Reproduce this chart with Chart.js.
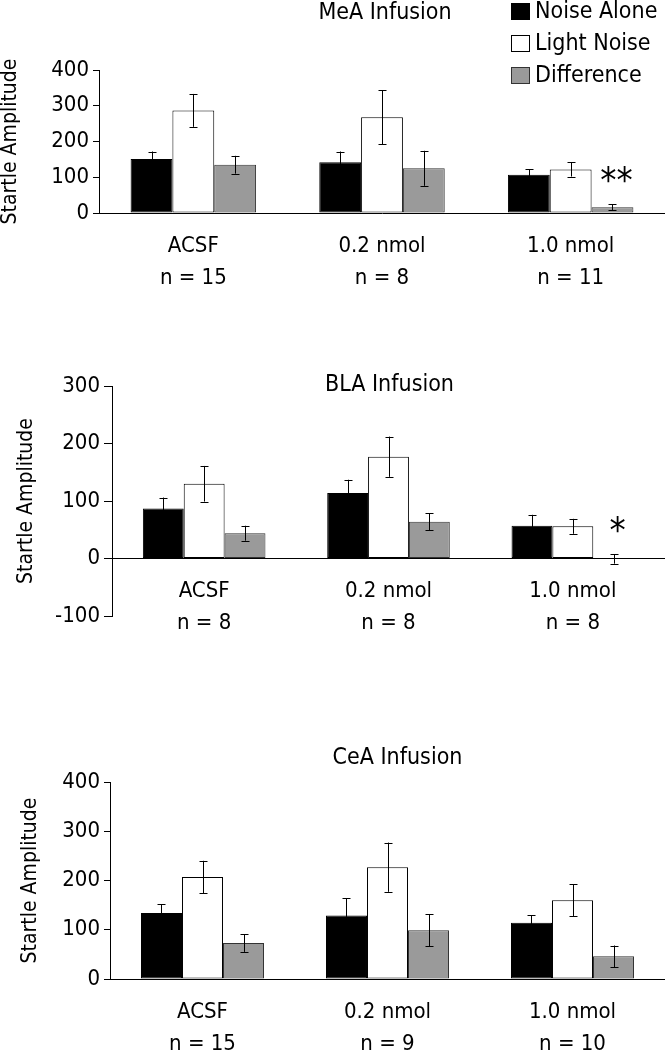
<!DOCTYPE html>
<html>
<head>
<meta charset="utf-8">
<script src="https://cdn.jsdelivr.net/npm/chart.js@4"></script>
<style>
  body { margin: 0; background: #fff; }
  .panel { position: absolute; left: 0; width: 666px; }
</style>
</head>
<body>
<div class="panel" style="top:0;height:300px"><canvas id="meaChart"></canvas></div>
<div class="panel" style="top:320px;height:330px"><canvas id="blaChart"></canvas></div>
<div class="panel" style="top:680px;height:370px"><canvas id="ceaChart"></canvas></div>
<script>
// shared
var categories = ["ACSF", "0.2 nmol", "1.0 nmol"];
var seriesNames = ["Noise Alone", "Light Noise", "Difference"];

// MeA infusion
var meaN = ["n = 15", "n = 8", "n = 11"];
var meaNoise = [151, 142, 107];
var meaLight = [287, 268, 122];
var meaDiff = [135, 125, 16];
var meaNoiseErr = [21, 30, 15];
var meaLightErr = [46, 76, 20];
var meaDiffErr = [25, 49, 8];
var meaStars = ["", "", "**"];
var meaTicks = [0, 100, 200, 300, 400];

// BLA infusion
var blaN = ["n = 8", "n = 8", "n = 8"];
var blaNoise = [87, 114, 57];
var blaLight = [130, 177, 56];
var blaDiff = [44, 64, -1];
var blaNoiseErr = [19, 23, 19];
var blaLightErr = [31, 35, 13];
var blaDiffErr = [13, 15, 8];
var blaStars = ["", "", "*"];
var blaTicks = [-100, 0, 100, 200, 300];

// CeA infusion
var ceaN = ["n = 15", "n = 9", "n = 10"];
var ceaNoise = [134, 129, 114];
var ceaLight = [207, 227, 160];
var ceaDiff = [73, 99, 46];
var ceaNoiseErr = [18, 35, 15];
var ceaLightErr = [33, 50, 32];
var ceaDiffErr = [18, 33, 22];
var ceaStars = ["", "", ""];
var ceaTicks = [0, 100, 200, 300, 400];

var FONT = "'DejaVu Sans Condensed', 'Liberation Sans Narrow', 'DejaVu Sans', sans-serif";
var fills = ["#000000", "#ffffff", "#9a9a9a"];
var borders = ["#000000", "#000000", "#333333"];

// error bars, stars, category labels, title, legend
var extrasPlugin = {
    id: "extras",
    afterDatasetsDraw: function (chart) {
        var ctx = chart.ctx;
        var o = chart.options.plugins.extras;
        var y = chart.scales.y;
        var x = chart.scales.x;
        ctx.save();
        ctx.strokeStyle = "#000";
        ctx.lineWidth = 1;
        chart.data.datasets.forEach(function (ds, i) {
            var meta = chart.getDatasetMeta(i);
            meta.data.forEach(function (bar, j) {
                var v = ds.data[j], e = o.errors[i][j];
                var top = y.getPixelForValue(v + e), bot = y.getPixelForValue(v - e);
                var cx = Math.round(bar.x) + 0.5;
                ctx.beginPath();
                ctx.moveTo(cx, top); ctx.lineTo(cx, bot);
                ctx.moveTo(cx - 4, Math.round(top) + 0.5); ctx.lineTo(cx + 4, Math.round(top) + 0.5);
                ctx.moveTo(cx - 4, Math.round(bot) + 0.5); ctx.lineTo(cx + 4, Math.round(bot) + 0.5);
                ctx.stroke();
            });
        });
        // significance stars above the Difference bar
        var diffMeta = chart.getDatasetMeta(2);
        ctx.fillStyle = "#000";
        ctx.textAlign = "center";
        ctx.textBaseline = "middle";
        ctx.font = "36px " + FONT;
        o.stars.forEach(function (s, j) {
            if (!s) return;
            var ds = chart.data.datasets[2];
            var top = y.getPixelForValue(ds.data[j] + o.errors[2][j]);
            ctx.fillText(s, diffMeta.data[j].x + 4, top - 22);
        });
        // category labels under zero line
        var zero = y.getPixelForValue(0);
        ctx.font = "22px " + FONT;
        categories.forEach(function (c, j) {
            var cx = x.getPixelForValue(j);
            ctx.fillText(c, cx, zero + o.labelGap[0]);
            ctx.fillText(o.nLabels[j], cx, zero + o.labelGap[1]);
        });
        // panel title
        ctx.font = "23px " + FONT;
        ctx.fillText(o.title, x.getPixelForValue(1) + o.titleShift, o.titleY);
        // legend (top panel only)
        if (o.legend) {
            ctx.textAlign = "left";
            ctx.font = "23px " + FONT;
            seriesNames.forEach(function (name, i) {
                var ly = 11 + i * 32;
                ctx.fillStyle = fills[i];
                ctx.fillRect(511, ly - 8, 19, 17);
                ctx.strokeStyle = borders[i];
                ctx.strokeRect(511.5, ly - 7.5, 18, 16);
                ctx.fillStyle = "#000";
                ctx.fillText(name, 535, ly + 1);
            });
        }
        ctx.restore();
    }
};

function makePanel(id, noise, light, diff, errs, nLabels, stars, ticks, p) {
    var datasets = [noise, light, diff].map(function (vals, i) {
        return {
            label: seriesNames[i],
            data: vals,
            backgroundColor: fills[i],
            borderColor: borders[i],
            borderWidth: 1,
            borderSkipped: false,
            barPercentage: 1,
            categoryPercentage: 0.665
        };
    });
    new Chart(document.getElementById(id).getContext("2d"), {
        type: "bar",
        data: { labels: categories, datasets: datasets },
        options: {
            responsive: true,
            maintainAspectRatio: false,
            animation: false,
            layout: { padding: { left: 0, right: 1, top: p.top, bottom: p.bottom } },
            scales: {
                x: { display: false },
                y: {
                    min: ticks[0],
                    max: ticks[ticks.length - 1],
                    afterFit: function (s) { s.width = p.axisX; },
                    afterBuildTicks: function (s) {
                        s.ticks = ticks.map(function (t) { return { value: t }; });
                    },
                    border: { display: true, color: "#000", width: 1 },
                    grid: {
                        color: function (c) { return c.tick && c.tick.value === 0 ? "#000" : "rgba(0,0,0,0)"; },
                        tickColor: "#000",
                        tickLength: p.tickLen,
                        drawOnChartArea: true
                    },
                    ticks: {
                        color: "#000",
                        padding: 4,
                        font: { family: FONT, size: 22 }
                    },
                    title: {
                        display: true,
                        text: "Startle Amplitude",
                        color: "#000",
                        padding: { top: p.titlePad, bottom: 0 },
                        font: { family: FONT, size: 21, lineHeight: 1 }
                    }
                }
            },
            plugins: {
                legend: { display: false },
                tooltip: { enabled: false },
                extras: {
                    errors: errs,
                    nLabels: nLabels,
                    stars: stars,
                    title: p.title,
                    titleY: p.titleY,
                    titleShift: p.titleShift,
                    labelGap: [33, 65],
                    legend: p.legend
                }
            }
        },
        plugins: [extrasPlugin]
    });
}

document.addEventListener("DOMContentLoaded", function () {
    makePanel("meaChart", meaNoise, meaLight, meaDiff,
        [meaNoiseErr, meaLightErr, meaDiffErr], meaN, meaStars, meaTicks,
        { top: 70, bottom: 87, axisX: 99, tickLen: 6, titlePad: 0, title: "MeA Infusion", titleY: 13, titleShift: 3, legend: true });
    makePanel("blaChart", blaNoise, blaLight, blaDiff,
        [blaNoiseErr, blaLightErr, blaDiffErr], blaN, blaStars, blaTicks,
        { top: 66, bottom: 34, axisX: 112, tickLen: 8, titlePad: 16, title: "BLA Infusion", titleY: 65, titleShift: 1, legend: false });
    makePanel("ceaChart", ceaNoise, ceaLight, ceaDiff,
        [ceaNoiseErr, ceaLightErr, ceaDiffErr], ceaN, ceaStars, ceaTicks,
        { top: 102, bottom: 71, axisX: 110, tickLen: 6, titlePad: 20, title: "CeA Infusion", titleY: 78, titleShift: 10, legend: false });
});
</script>
</body>
</html>
